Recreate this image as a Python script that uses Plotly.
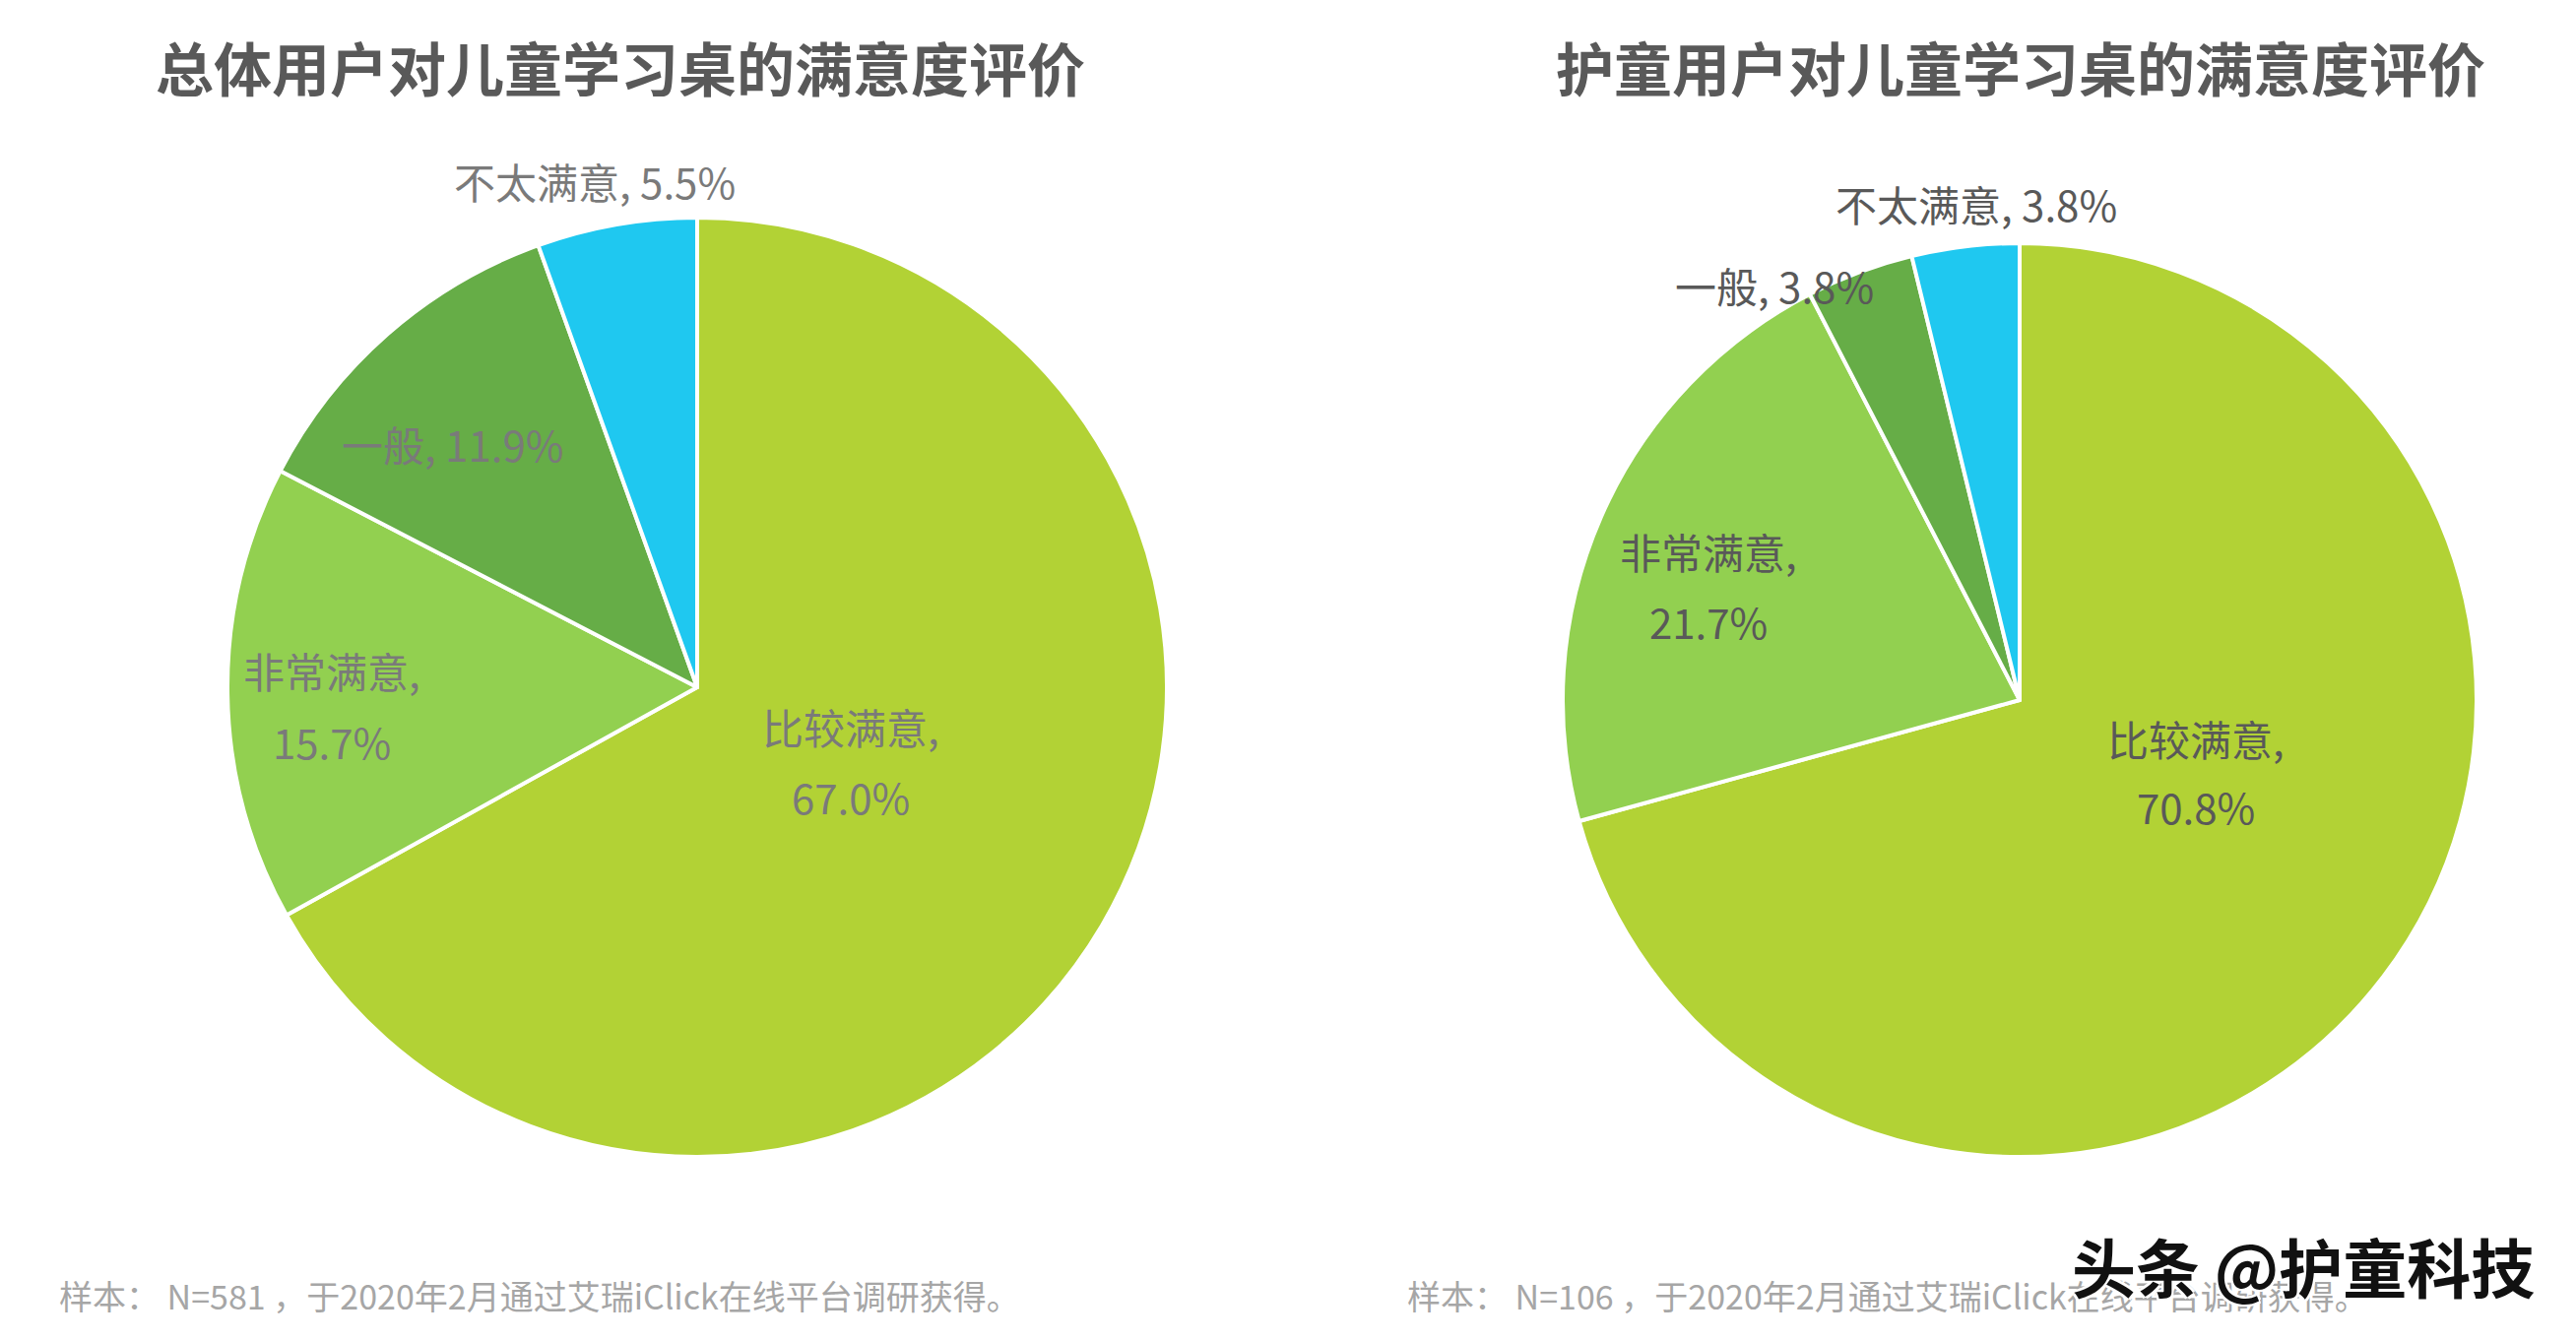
import plotly.graph_objects as go

# ---- data ----
categories = ["比较满意", "非常满意", "一般", "不太满意"]
overall_values = [67.0, 15.7, 11.9, 5.5]
hutong_values = [70.8, 21.7, 3.8, 3.8]
titles = ["总体用户对儿童学习桌的满意度评价", "护童用户对儿童学习桌的满意度评价"]
notes = ["样本： N=581 ，于2020年2月通过艾瑞iClick在线平台调研获得。",
         "样本： N=106 ，于2020年2月通过艾瑞iClick在线平台调研获得。"]
watermark = "头条 @护童科技"

# ---- styles / layout ----
W, H = 2616, 1362
colors = ["#b2d235", "#92d050", "#66ad47", "#1fc8f0"]
FONT = "Noto Sans CJK SC, Microsoft YaHei, sans-serif"


def dom(cx, cy, r):
    return dict(x=[(cx - r) / W, (cx + r) / W], y=[(H - cy - r) / H, (H - cy + r) / H])


fig = go.Figure()
for vals, (cx, cy, r) in [(overall_values, (708, 698, 477)), (hutong_values, (2051, 711, 464))]:
    fig.add_trace(go.Pie(
        labels=categories, values=vals, sort=False, direction="clockwise", rotation=0,
        marker=dict(colors=colors, line=dict(color="white", width=4)),
        textinfo="none", showlegend=False, domain=dom(cx, cy, r),
    ))

# label positions (pixels): (x, y of first line, y of second line or None)
left_pos = [(864, 737, 809), (337, 680, 752), (459, 450, None), (604, 183, None)]
right_pos = [(2230, 750, 818), (1735, 559, 631), (1802, 289, None), (2007, 207, None)]

ann = []


def add_text(x, y, text, size, color, xanchor="center", **kw):
    ann.append(dict(x=x / W, y=1 - y / H, xref="paper", yref="paper", text=text,
                    showarrow=False, font=dict(family=FONT, size=size, color=color, **kw),
                    xanchor=xanchor, yanchor="middle"))


for vals, pos, col in [(overall_values, left_pos, "#7a7a7a"), (hutong_values, right_pos, "#595959")]:
    for cat, v, (x, y1, y2) in zip(categories, vals, pos):
        if y2 is None:
            add_text(x, y1, f"{cat}, {v:.1f}%", 42, col)
        else:
            add_text(x, y1, f"{cat},", 42, col)
            add_text(x, y2, f"{v:.1f}%", 42, col)

for t, x in zip(titles, [630, 2052]):
    add_text(x, 68, f"<b>{t}</b>", 59, "#595959")

for n, x in zip(notes, [58, 1427]):
    add_text(x, 1315, n, 34, "#a6a6a6", xanchor="left")

add_text(2576, 1285, f"<b>{watermark}</b>", 65, "#111111", xanchor="right",
         shadow="2px 2px 0 white, -2px -2px 0 white, 2px -2px 0 white, -2px 2px 0 white")

fig.update_layout(width=W, height=H, margin=dict(l=0, r=0, t=0, b=0),
                  paper_bgcolor="white", plot_bgcolor="white", annotations=ann)

fig.write_html("out.html", config={"displayModeBar": False},
               post_script="document.body.style.margin='0';")
